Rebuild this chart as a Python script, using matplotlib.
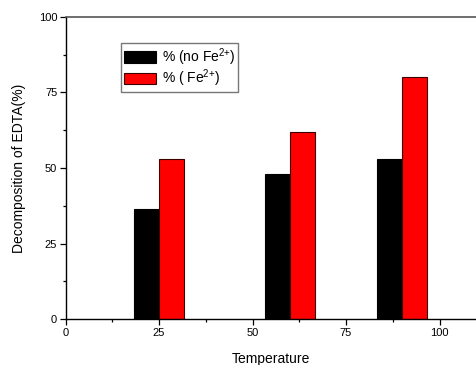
import matplotlib
matplotlib.use("Agg")
import matplotlib.pyplot as plt
from matplotlib.ticker import MultipleLocator

plt.rcParams['font.family'] = ['Liberation Sans', 'DejaVu Sans']
plt.rcParams['mathtext.fontset'] = 'custom'
plt.rcParams['mathtext.rm'] = 'Liberation Sans'
plt.rcParams['mathtext.it'] = 'Liberation Sans'
plt.rcParams['mathtext.bf'] = 'Liberation Sans:bold'

temperatures = [25, 60, 90]
no_fe = [36.5, 48, 53]
with_fe = [53, 62, 80]
series_labels = ['% (no Fe$\\mathregular{^{2{+}}}$)', '% ( Fe$\\mathregular{^{2{+}}}$)']
bar_width = 6.6

fig = plt.figure(figsize=(4.76, 3.65), dpi=100)
W, H = 476, 365
left, right = 65.5, 65.5 + 110 * 3.74
bottom, top = 319.3, 16.7
ax = fig.add_axes([left / W, 1 - bottom / H, (right - left) / W, (bottom - top) / H])

ax.bar([t - bar_width / 2 for t in temperatures], no_fe, width=bar_width,
       color='black', edgecolor='black', linewidth=0.8, label=series_labels[0])
ax.bar([t + bar_width / 2 for t in temperatures], with_fe, width=bar_width,
       color='#ff0000', edgecolor='#3a0000', linewidth=0.8, label=series_labels[1])

ax.set_xlim(0, 110)
ax.set_ylim(0, 100)
ax.xaxis.set_major_locator(MultipleLocator(25))
ax.xaxis.set_minor_locator(MultipleLocator(12.5))
ax.yaxis.set_major_locator(MultipleLocator(25))
ax.yaxis.set_minor_locator(MultipleLocator(12.5))
ax.tick_params(which='both', direction='out', labelsize=8, width=0.9)
ax.tick_params(which='major', length=4)
ax.tick_params(which='minor', length=2.5)
ax.tick_params(axis='x', pad=2)
ax.tick_params(axis='y', pad=2)

for s in ['left', 'bottom']:
    ax.spines[s].set_linewidth(1.0)
    ax.spines[s].set_color('black')
ax.spines['top'].set_color('#555555')
ax.spines['top'].set_linewidth(1.2)
ax.spines['right'].set_visible(False)

ax.set_xlabel('Temperature', fontsize=10, labelpad=10)
ax.set_ylabel('Decomposition of EDTA(%)', fontsize=10, labelpad=9)

leg = ax.legend(loc='upper left', bbox_to_anchor=((121 - left) / (right - left), (bottom - 43.3) / (bottom - top)),
                fontsize=10, frameon=True, fancybox=False, edgecolor='#555555',
                handlelength=2.3, handleheight=0.95, borderpad=0.2, labelspacing=0.0,
                handletextpad=0.45, borderaxespad=0)
leg.get_frame().set_linewidth(1.0)

fig.savefig('out.png', dpi=100)
